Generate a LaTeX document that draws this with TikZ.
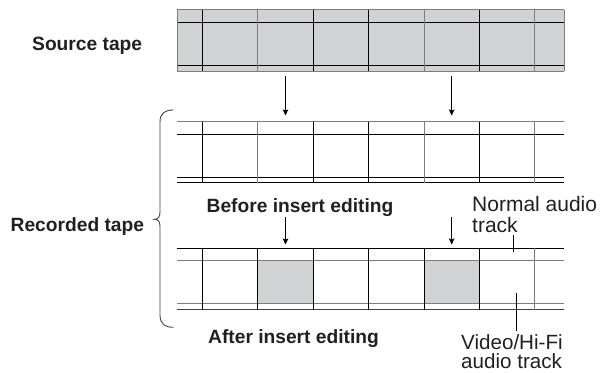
\documentclass[tikz,border=0pt]{standalone}
\usepackage{fontspec}
\setmainfont{Liberation Sans}
\usetikzlibrary{arrows.meta}
\definecolor{tapefill}{RGB}{209,210,212}
\definecolor{lgray}{RGB}{125,125,125}
\definecolor{ink}{RGB}{35,31,32}
\begin{document}
\begin{tikzpicture}[x=1pt,y=-1pt,
  blk/.style={line width=0.9pt,black},
  gry/.style={line width=0.9pt,lgray},
  arr/.style={line width=0.9pt,black,-{Stealth[length=6pt,width=5.5pt,inset=1pt]}},
  lead/.style={line width=0.8pt,black},
  boldlbl/.style={inner sep=0pt,anchor=base west,text=ink,font=\fontsize{19.2}{23}\selectfont\bfseries},
  reglbl/.style={inner sep=0pt,anchor=base west,text=ink,align=left}]
\useasboundingbox (0,0) rectangle (601,372);

% ---------------- Source tape ----------------
\fill[tapefill] (177.3,9.8) rectangle (564,71);
\draw[gry] (177.3,9.8) -- (564,9.8);
\draw[blk] (177.3,22.3) -- (564,22.3);
\draw[blk] (177.3,65.7) -- (564,65.7);
\draw[gry] (177.3,71) -- (564,71);
\draw[gry] (177.3,9.8) -- (177.3,71);
\draw[gry] (564,9.8) -- (564,71);
\foreach \x/\c in {202.3/black,257.7/lgray,313.2/black,368.6/black,424/lgray,479.3/black,534.7/lgray}
  \draw[line width=0.9pt,\c] (\x,9.8) -- (\x,71);

% ---------------- Before tape ----------------
\draw[gry] (177.3,121.7) -- (564,121.7);
\draw[blk] (177.3,134) -- (564,134);
\draw[blk] (177.3,177.7) -- (564,177.7);
\draw[blk] (177.3,182.5) -- (564,182.5);
\foreach \x/\c in {202.3/black,257.7/lgray,313.2/black,368.6/black,424/lgray,479.3/black,534.7/lgray}
  \draw[line width=0.9pt,\c] (\x,121.7) -- (\x,182.5);

% ---------------- After tape ----------------
\fill[tapefill] (257.7,260.7) rectangle (313.2,303.9);
\fill[tapefill] (424,260.7) rectangle (479.3,303.9);
\draw[blk] (177.3,248.3) -- (564,248.3);
\draw[gry] (177.3,260.7) -- (564,260.7);
\draw[gry] (177.3,303.9) -- (564,303.9);
\draw[line width=0.9pt,black!75] (177.3,309.6) -- (564,309.6);
\foreach \x/\c in {202.3/black,257.7/black,313.2/black,368.6/black,424/black,479.3/black,534.7/lgray}
  \draw[line width=0.9pt,\c] (\x,248.3) -- (\x,309.6);

% ---------------- Arrows ----------------
\coordinate (a1s) at (285.5,76);  \coordinate (a1e) at (285.5,115.5);
\coordinate (a2s) at (451.7,76);  \coordinate (a2e) at (451.7,115.5);
\coordinate (a3s) at (285.5,216.5); \coordinate (a3e) at (285.5,244.5);
\coordinate (a4s) at (451.7,216.5); \coordinate (a4e) at (451.7,244.5);
\draw[arr] (a1s) -- (a1e);
\draw[arr] (a2s) -- (a2e);
\draw[arr] (a3s) -- (a3e);
\draw[arr] (a4s) -- (a4e);

% ---------------- Brace ----------------
\draw[line width=0.9pt,ink!85] (173.3,110) .. controls (165,110) and (160,113) .. (160,122)
  -- (160,212) .. controls (160,217) and (158,219.3) .. (154.5,219.3)
  .. controls (158,219.3) and (160,221.5) .. (160,226.5)
  -- (160,315) .. controls (160,324) and (165,327.3) .. (173.3,327.3);

% ---------------- Labels ----------------
\node[boldlbl] (srclbl) at (32,50.7) {Source tape};
\node[boldlbl] (reclbl) at (10.5,231.7) {Recorded tape};
\node[boldlbl] (beflbl) at (206.5,212.3) {Before insert editing};
\node[boldlbl] (aftlbl) at (208,343.3) {After insert editing};
\node[reglbl,font=\fontsize{21}{20.6}\selectfont] (na) at (472,232.3) {Normal audio\\track};
\node[reglbl,font=\fontsize{20.6}{19}\selectfont] (vh) at (461,368.3) {Video/Hi-Fi\\audio track};

% ---------------- Leader lines ----------------
\coordinate (l1s) at (513.3,235); \coordinate (l1e) at (513.3,252.3);
\coordinate (l2s) at (516,292.7); \coordinate (l2e) at (516,330.7);
\draw[lead] (l1s) -- (l1e);
\draw[lead] (l2s) -- (l2e);
\end{tikzpicture}
\end{document}
